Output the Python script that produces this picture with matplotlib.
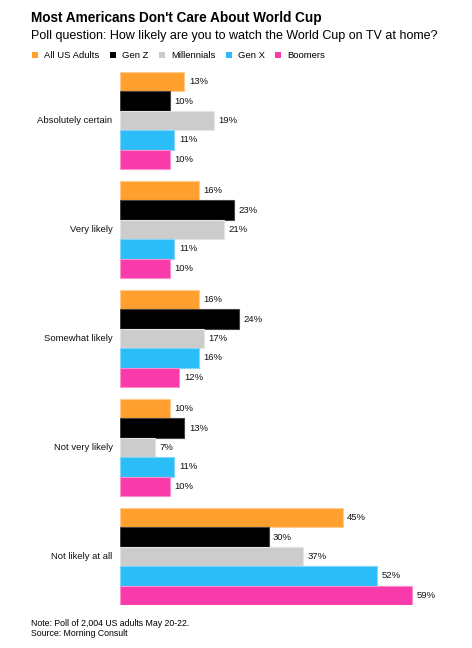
import numpy as np
import matplotlib
matplotlib.use('Agg')
from matplotlib import pyplot as plt
from matplotlib.patches import Rectangle

plt.rcParams['font.family'] = ['Liberation Sans', 'DejaVu Sans']

categories = ['Absolutely certain', 'Very likely', 'Somewhat likely', 'Not very likely', 'Not likely at all']
series = ['All US Adults', 'Gen Z', 'Millennials', 'Gen X', 'Boomers']
all_us = [13, 16, 16, 10, 45]
gen_z = [10, 23, 24, 13, 30]
millennials = [19, 21, 17, 7, 37]
gen_x = [11, 11, 16, 11, 52]
boomers = [10, 10, 12, 10, 59]
colors = ['#FFA02E', '#000000', '#CCCCCC', '#2ABDF7', '#F93AAB']
edges = ['#FFC98A', '#444444', '#E4E4E4', '#7FD6FA', '#FB8FCB']

W, H = 472, 648
fig = plt.figure(figsize=(W / 100, H / 100), dpi=100)

# axes placed in pixel coordinates: x 120..440, y 72..605
ax = fig.add_axes([120 / W, 1 - 605 / H, 320 / W, (605 - 72) / H])
ax.set_xlim(0, 320 / 4.95)

values = np.array([all_us, gen_z, millennials, gen_x, boomers])
bar_h = 1.0
group_gap = 0.62
group_step = len(series) * bar_h + group_gap

for gi, cat in enumerate(categories):
    base = gi * group_step
    for si in range(len(series)):
        v = values[si, gi]
        y = base + si * bar_h + bar_h / 2
        ax.barh(y, v, height=bar_h, color=colors[si], edgecolor=edges[si], linewidth=0.8)
        ax.text(v + 0.9, y, f'{v}%', va='center', ha='left', fontsize=6.8, color='#111111')
    ax.text(-1.5, base + 2.5 * bar_h, cat, va='center', ha='right', fontsize=6.8, color='#111111')

ax.set_ylim(len(categories) * group_step - group_gap, 0)
ax.axis('off')

fig.text(31 / W, 1 - 18 / H, "Most Americans Don't Care About World Cup", fontsize=9.8,
         fontweight='bold', va='center', ha='left')
fig.text(31 / W, 1 - 36 / H, 'Poll question: How likely are you to watch the World Cup on TV at home?',
         fontsize=9.0, va='center', ha='left')

# legend
leg_x = [32, 110, 159, 226, 275]
for x, name, c in zip(leg_x, series, colors):
    fig.patches.append(Rectangle((x / W, 1 - 58 / H), 6 / W, 6 / H, transform=fig.transFigure,
                                 facecolor=c, edgecolor='none'))
    fig.text((x + 12) / W, 1 - 55 / H, name, fontsize=6.8, va='center', ha='left')

fig.text(31 / W, 1 - 624 / H, 'Note: Poll of 2,004 US adults May 20-22.', fontsize=6.3, va='center', ha='left')
fig.text(31 / W, 1 - 634 / H, 'Source: Morning Consult', fontsize=6.3, va='center', ha='left')

fig.savefig('out.png', dpi=100)
